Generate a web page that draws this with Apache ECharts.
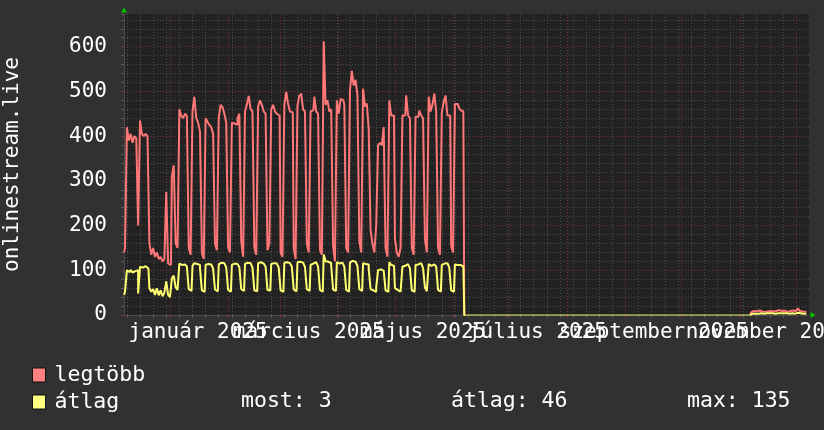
<!DOCTYPE html>
<html><head><meta charset="utf-8">
<script src="https://cdn.jsdelivr.net/npm/echarts@6/dist/echarts.min.js"></script>
<style>html,body{margin:0;padding:0;background:#313131;}#c{width:824px;height:430px;}</style>
</head><body><div id="c"></div>
<script>
// Day offsets are counted from 2025-01-01 (day 0). One value per day.
const seg1Start = -25; // 2024-12-07
const legtobb1 = [
  140,150,
  420,390,405,385,400, 395,200,
  435,405,400,405,400, 160,135,
  150,130,140,125,130, 120,125,
  275,115,112,310,335, 160,150,
  460,445,440,450,445, 150,135,
  455,488,440,430,410, 140,125,
  440,432,425,420,405, 160,145,
  440,470,465,450,430, 150,140,
  430,428,425,440,450, 165,130,
  455,470,490,460,455, 150,135,
  465,480,470,455,450, 145,160,
  460,470,455,450,446, 140,130,
  470,499,472,455,453, 150,125,
  468,490,495,460,455, 160,140,
  455,458,488,455,450, 145,135,
  612,470,480,455,460, 155,120,
  480,450,483,480,470, 150,140,
  502,546,513,526,491, 165,140,
  506,466,473,416, 190,160,140,200,
  380,385,380,420, 150,130,
  480,446,446, 170,140,130,150,
  446,446,491,446,440, 150,135,
  443,443,457,446,440, 170,140,
  488,455,470,495,455, 150,135,
  453,476,491,446,446, 155,140,
  472,472,465,458,455
];
const atlag1 = [
  45,52,
  100,96,101,95,98, 100,48,
  108,106,109,105,104, 60,52,
  58,45,60,44,55, 42,50,
  75,45,40,82,88, 62,56,
  115,112,113,110,108, 58,54,
  110,116,114,112,105, 55,52,
  112,114,113,110,104, 57,53,
  113,117,116,114,106, 56,52,
  112,115,114,113,107, 58,54,
  114,117,116,113,106, 55,53,
  116,118,115,114,108, 56,55,
  114,116,115,112,106, 55,52,
  117,118,116,113,108, 57,53,
  118,119,117,114,107, 58,54,
  112,115,118,114,108, 56,52,
  135,120,119,116,110, 57,54,
  118,115,117,116,108, 56,52,
  117,121,119,118,110, 58,54,
  116,114,113,104, 58,55,52,62,
  100,102,99,101, 55,52,
  118,112,110, 60,56,52,55,
  108,110,114,111,104, 55,52,
  112,113,116,112,105, 62,53,
  114,110,113,117,108, 56,52,
  112,115,116,112,106, 55,52,
  113,112,112,110,108
];
const zeroSpan = [157, 309]; // 2025-06-07 .. 2025-11-06, both series at 0
const seg2Start = 310;       // 2025-11-07
const legtobb2 = [6,9,8,7,10,8,9,7,8,10,9,8,7,9,11,8,9,10,8,7,9,8,10,9,12,15,9,8,7,8];
const atlag2   = [3,4,3,3,4,4,3,3,4,4,3,4,3,3,4,4,3,4,4,3,3,4,4,3,5,6,4,3,3,3];

const seriesNames = ['legtöbb', 'átlag'];
const monthStarts = [0, 31, 59, 90, 120, 151, 181, 212, 243, 273, 304, 334];
const monthLabelDays = [15, 74, 135, 196, 258, 319];
const monthLabels = ['január 2025', 'március 2025', 'május 2025', 'július 2025', 'szeptember 2025', 'november 2025'];
const statLabels = ['most: 3', 'átlag: 46', 'max: 135'];
const yAxisTitle = 'onlinestream.live';

const X_MIN = -24.54, X_MAX = 340.9;
const Y_MAX = 673;
const FONT = 'DejaVu Sans Mono';

const mondays = [];
for (let d = -23; d <= X_MAX; d += 7) mondays.push(d);

function build(a, b) {
  const out = [];
  a.forEach((v, i) => out.push([seg1Start + i + 0.5, v]));
  out.push([zeroSpan[0] + 0.5, 0], [zeroSpan[0] + 0.55, null], [zeroSpan[1] + 0.45, null], [zeroSpan[1] + 0.5, 0]);
  b.forEach((v, i) => out.push([seg2Start + i + 0.5, v]));
  return out;
}
const zeroData = [[zeroSpan[0] + 0.5, 0], [zeroSpan[1] + 0.5, 0]];

const chart = echarts.init(document.getElementById('c'));
const labelMap = {};
monthLabelDays.forEach((d, i) => labelMap[d] = monthLabels[i]);

const arrowLine = { show: true, onZero: false, symbol: ['none', 'triangle'], symbolSize: [6, 5], symbolOffset: [0, 4],
  lineStyle: { color: '#00c800', width: 0 } };

// two label axes so that alternate labels may overlap freely
function labelAxis(days) {
  return { type: 'value', min: X_MIN, max: X_MAX, position: 'bottom',
    axisLine: { show: false, onZero: false }, axisTick: { show: false }, splitLine: { show: false },
    axisLabel: { show: true, customValues: days, formatter: v => labelMap[Math.round(v)] || '',
      color: '#ffffff', fontFamily: FONT, fontSize: 21, margin: 7, hideOverlap: false,
      showMinLabel: true, showMaxLabel: true } };
}
function legendRow(name, top) {
  return { orient: 'horizontal', left: 32, top: top, padding: 0, itemWidth: 13, itemHeight: 14,
    icon: 'rect', selectedMode: false,
    textStyle: { color: '#ffffff', fontFamily: FONT, fontSize: 21.5, padding: [0, 0, 0, 4] },
    itemStyle: { borderColor: '#111111', borderWidth: 1 }, data: [name] };
}

chart.setOption({
  animation: false,
  backgroundColor: '#313131',
  grid: { left: 124, right: 15, top: 14, bottom: 115, containLabel: false, outerBoundsMode: 'none',
    show: true, backgroundColor: '#222222', borderWidth: 0 },
  xAxis: [
    { type: 'value', min: X_MIN, max: X_MAX, position: 'bottom',
      axisLine: { show: true, onZero: false, lineStyle: { color: '#4c4c4c', width: 1 } },
      axisTick: { show: true, customValues: mondays, length: 3, lineStyle: { color: '#5a5a5a' } },
      axisLabel: { show: false },
      splitLine: { show: true, lineStyle: { color: '#4d4d4d', type: [1, 2], width: 1 } } },
    { type: 'value', min: X_MIN, max: X_MAX, position: 'bottom',
      axisLine: { show: false, onZero: false },
      axisTick: { show: true, customValues: monthStarts, length: 3, lineStyle: { color: '#7a3434' } },
      axisLabel: { show: false },
      splitLine: { show: true, lineStyle: { color: '#733030', type: [1, 2], width: 1 } } },
    labelAxis(monthLabelDays.filter((d, i) => i % 2 === 0)),
    labelAxis(monthLabelDays.filter((d, i) => i % 2 === 1)),
    { type: 'value', min: X_MIN, max: X_MAX, position: 'bottom', axisLine: arrowLine,
      axisTick: { show: false }, axisLabel: { show: false }, splitLine: { show: false } }
  ],
  yAxis: [
    { type: 'value', min: 0, max: Y_MAX, interval: 20, position: 'left',
      axisLine: { show: false, onZero: false },
      axisTick: { show: true, length: 3, lineStyle: { color: '#5a5a5a' } },
      axisLabel: { show: false },
      splitLine: { show: true, showMinLine: false, showMaxLine: false, lineStyle: { color: '#4d4d4d', type: [1, 2], width: 1 } } },
    { type: 'value', min: 0, max: Y_MAX, interval: 100, position: 'left',
      axisLine: { show: true, onZero: false, lineStyle: { color: '#4c4c4c', width: 1 } },
      axisTick: { show: true, length: 3, lineStyle: { color: '#7a3434' } },
      axisLabel: { color: '#ffffff', fontFamily: FONT, fontSize: 21, margin: 17, showMaxLabel: false },
      splitLine: { show: true, showMinLine: false, showMaxLine: false, lineStyle: { color: '#733030', type: [1, 2], width: 1 } },
      name: yAxisTitle, nameLocation: 'middle', nameGap: 101,
      nameTextStyle: { color: '#ffffff', fontFamily: FONT, fontSize: 21 } },
    { type: 'value', min: 0, max: Y_MAX, position: 'left', axisLine: arrowLine,
      axisTick: { show: false }, axisLabel: { show: false }, splitLine: { show: false } }
  ],
  legend: [legendRow(seriesNames[0], 364), legendRow(seriesNames[1], 391)],
  graphic: statLabels.map((t, i) => ({
    type: 'text', x: [241, 451, 687][i], y: 401,
    style: { text: t, fill: '#ffffff', font: '21.5px "DejaVu Sans Mono"', verticalAlign: 'middle' }
  })),
  series: [
    { name: seriesNames[0], type: 'line', data: build(legtobb1, legtobb2), step: 'middle', showSymbol: false,
      color: '#ff8080', lineStyle: { color: '#ff7777', width: 2 } },
    { name: seriesNames[1], type: 'line', data: zeroData, showSymbol: false,
      color: '#ffff80', lineStyle: { color: '#ffff70', width: 2, opacity: 0.45 } },
    { name: seriesNames[1], type: 'line', data: build(atlag1, atlag2), step: 'middle', showSymbol: false,
      color: '#ffff80', lineStyle: { color: '#ffff70', width: 2 } }
  ]
});
</script></body></html>
